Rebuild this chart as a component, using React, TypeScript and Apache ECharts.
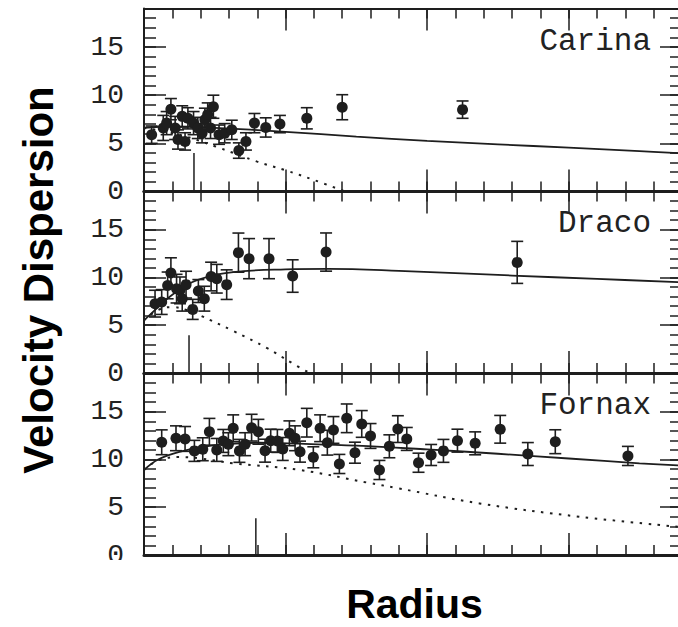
import React, { useEffect, useRef } from "react";
import * as echarts from "echarts";

// ---------- data ----------
const X_MIN = 0;
const X_MAX = 3.8;
const Y_MAX = 19;

const galaxyNames = ["Carina", "Draco", "Fornax"];

const carinaR = [0.054, 0.136, 0.16, 0.19, 0.22, 0.24, 0.27, 0.29, 0.31, 0.35, 0.38, 0.41, 0.43, 0.45, 0.47, 0.49, 0.53, 0.57, 0.62, 0.67, 0.72, 0.78, 0.86, 0.96, 1.15, 1.4, 2.25];
const carinaV = [5.9, 6.6, 7.1, 8.55, 6.6, 5.4, 7.8, 5.2, 7.6, 7.1, 6.6, 6.05, 7.45, 8.0, 6.6, 8.8, 5.9, 6.05, 6.4, 4.25, 5.2, 7.1, 6.65, 7.0, 7.6, 8.75, 8.5];
const carinaErr = [0.9, 1.3, 1.2, 1.1, 1.2, 1.0, 1.1, 0.9, 1.1, 1.2, 1.1, 1.0, 1.2, 1.2, 1.1, 1.2, 1.0, 1.0, 1.0, 0.8, 0.9, 1.0, 1.0, 0.9, 1.1, 1.3, 0.9];

const dracoR = [0.078, 0.125, 0.167, 0.19, 0.23, 0.254, 0.27, 0.297, 0.344, 0.384, 0.426, 0.474, 0.514, 0.584, 0.667, 0.742, 0.883, 1.05, 1.286, 2.636];
const dracoV = [7.26, 7.43, 9.17, 10.46, 8.83, 8.65, 7.78, 9.25, 6.66, 8.58, 7.78, 10.1, 9.87, 9.25, 12.6, 11.97, 11.97, 10.15, 12.66, 11.58];
const dracoErr = [1.4, 1.3, 1.4, 1.6, 1.5, 1.4, 1.3, 1.4, 1.05, 1.2, 1.3, 1.5, 1.5, 1.55, 2.05, 2.1, 2.1, 1.7, 2.0, 2.2];

const fornaxR = [0.125, 0.226, 0.29, 0.356, 0.415, 0.462, 0.514, 0.56, 0.596, 0.63, 0.674, 0.714, 0.76, 0.808, 0.855, 0.895, 0.942, 0.98, 1.027, 1.067, 1.102, 1.15, 1.196, 1.244, 1.295, 1.338, 1.38, 1.432, 1.49, 1.538, 1.6, 1.663, 1.733, 1.793, 1.856, 1.939, 2.028, 2.115, 2.214, 2.339, 2.516, 2.711, 2.905, 3.418];
const fornaxV = [11.8, 12.22, 12.15, 10.9, 11.07, 12.9, 11.0, 11.94, 11.6, 13.27, 10.9, 11.6, 13.33, 12.9, 10.92, 11.97, 11.94, 11.1, 12.74, 12.22, 10.82, 13.85, 10.23, 13.27, 11.76, 13.09, 9.53, 14.31, 10.71, 13.72, 12.46, 8.9, 11.38, 13.18, 12.15, 9.66, 10.47, 10.9, 11.97, 11.69, 13.16, 10.57, 11.86, 10.37];
const fornaxErr = [1.3, 1.3, 1.3, 1.1, 1.2, 1.4, 1.2, 1.2, 1.2, 1.4, 1.2, 1.2, 1.4, 1.3, 1.2, 1.2, 1.2, 1.2, 1.3, 1.3, 1.1, 1.5, 1.1, 1.4, 1.3, 1.4, 1.0, 1.5, 1.1, 1.4, 1.3, 1.0, 1.2, 1.4, 1.2, 1.0, 1.1, 1.2, 1.2, 1.2, 1.45, 1.2, 1.25, 1.0];

// model curves
const carinaSolidR = [0, 0.2, 0.5, 1.0, 1.5, 2.0, 2.5, 3.0, 3.5, 3.8];
const carinaSolidV = [6.6, 6.75, 6.6, 6.2, 5.7, 5.25, 4.9, 4.55, 4.2, 3.95];
const carinaDotR = [0, 0.25, 0.5, 0.8, 1.0, 1.2, 1.42];
const carinaDotV = [6.6, 5.9, 4.7, 3.1, 2.2, 1.2, 0];

const dracoSolidR = [0, 0.1, 0.2, 0.37, 0.63, 1.0, 1.3, 1.8, 2.6, 3.2, 3.8];
const dracoSolidV = [5.5, 6.9, 8.2, 9.7, 10.55, 10.85, 10.9, 10.7, 10.2, 9.85, 9.5];
const dracoDotR = [0, 0.1, 0.2, 0.3, 0.4, 0.63, 0.87, 1.05, 1.17];
const dracoDotV = [5.5, 6.6, 6.9, 6.6, 6.0, 4.4, 2.6, 1.0, 0];

const fornaxSolidR = [0, 0.1, 0.25, 0.5, 0.8, 1.1, 1.5, 2.0, 2.5, 3.0, 3.5, 3.8];
const fornaxSolidV = [8.9, 10.0, 10.8, 11.5, 11.75, 11.65, 11.45, 11.05, 10.6, 10.1, 9.6, 9.35];
const fornaxDotR = [0, 0.1, 0.25, 0.4, 0.63, 1.1, 1.57, 1.79, 2.37, 3.08, 3.77];
const fornaxDotV = [8.9, 9.9, 10.25, 10.1, 9.6, 8.9, 7.6, 7.0, 5.4, 4.0, 2.96];

// short vertical markers
const markerR = [0.353, 0.318, 0.79];
const markerTop = [4.0, 3.95, 3.85];

const yTickLabels = ["0", "5", "10", "15"];

// ---------- layout / style ----------
const INK = "#1e1e1e";
const GRID_LEFT = 144;
const GRID_RIGHT = -4;
const gridTops = [8.5, 191.5, 373.5];
const gridHeights = [183, 181.5, 181.5];

const panels = [
  { r: carinaR, v: carinaV, e: carinaErr, sr: carinaSolidR, sv: carinaSolidV, dr: carinaDotR, dv: carinaDotV },
  { r: dracoR, v: dracoV, e: dracoErr, sr: dracoSolidR, sv: dracoSolidV, dr: dracoDotR, dv: dracoDotV },
  { r: fornaxR, v: fornaxV, e: fornaxErr, sr: fornaxSolidR, sv: fornaxSolidV, dr: fornaxDotR, dv: fornaxDotV },
];

function zip(a: number[], b: number[]) {
  return a.map((x, i) => [x, b[i]]);
}

function buildOption() {
  const grid: any[] = [];
  const xAxis: any[] = [];
  const yAxis: any[] = [];
  const series: any[] = [];
  const graphic: any[] = [];

  panels.forEach((p, i) => {
    grid.push({
      left: GRID_LEFT,
      right: GRID_RIGHT,
      top: gridTops[i],
      height: gridHeights[i],
      containLabel: false,
      outerBoundsMode: "none",
    });

    const xBase = (position: string, interval: number, len: number, lineW: number) => ({
      type: "value",
      gridIndex: i,
      position,
      min: X_MIN,
      max: X_MAX,
      interval,
      axisLine: { show: lineW > 0, onZero: false, lineStyle: { color: INK, width: lineW } },
      axisTick: { show: true, inside: true, length: len, lineStyle: { color: INK, width: 1.5 } },
      axisLabel: { show: false },
      splitLine: { show: false },
      minorTick: { show: false },
    });
    xAxis.push(xBase("bottom", 0.2, 10, 3));
    xAxis.push(xBase("bottom", 1, 22, 0));
    xAxis.push(xBase("top", 0.2, 10, i === 0 ? 2 : 3));
    xAxis.push(xBase("top", 1, 22, 0));

    const yBase = (position: string, interval: number, len: number, lineW: number, labels: boolean) => ({
      type: "value",
      gridIndex: i,
      position,
      min: 0,
      max: Y_MAX,
      interval,
      axisLine: { show: lineW > 0, onZero: false, lineStyle: { color: INK, width: lineW } },
      axisTick: { show: true, inside: true, length: len, lineStyle: { color: INK, width: 1.5 } },
      axisLabel: {
        show: labels,
        margin: 20,
        color: "#222",
        fontFamily: "Liberation Mono",
        fontSize: 28,
        formatter: (val: number) => {
          const s = String(Math.round(val));
          return yTickLabels.indexOf(s) >= 0 && Math.abs(val - Math.round(val)) < 1e-6 ? s : "";
        },
      },
      splitLine: { show: false },
    });
    yAxis.push(yBase("left", 1, 12, 2, false));
    yAxis.push(yBase("left", 5, 22, 0, true));
    yAxis.push(yBase("right", 1, 12, 2, false));
    yAxis.push(yBase("right", 5, 22, 0, false));

    const xi = i * 4;
    const yi = i * 4;
    const pts = p.r.map((x, k) => [x, p.v[k], p.e[k]]);

    series.push({
      type: "custom",
      xAxisIndex: xi,
      yAxisIndex: yi,
      data: pts,
      encode: { x: 0, y: 1 },
      z: 3,
      renderItem: (_params: any, api: any) => {
        const x = api.value(0);
        const y = api.value(1);
        const e = api.value(2);
        const top = api.coord([x, y + e]);
        const bot = api.coord([x, y - e]);
        const hw = 6;
        const st = { stroke: INK, lineWidth: 1.6 };
        return {
          type: "group",
          children: [
            { type: "line", shape: { x1: top[0], y1: top[1], x2: bot[0], y2: bot[1] }, style: st },
            { type: "line", shape: { x1: top[0] - hw, y1: top[1], x2: top[0] + hw, y2: top[1] }, style: st },
            { type: "line", shape: { x1: bot[0] - hw, y1: bot[1], x2: bot[0] + hw, y2: bot[1] }, style: st },
          ],
        };
      },
    });
    series.push({
      type: "scatter",
      xAxisIndex: xi,
      yAxisIndex: yi,
      data: pts.map((d) => [d[0], d[1]]),
      symbol: "circle",
      symbolSize: 11,
      itemStyle: { color: INK, opacity: 1 },
      z: 4,
    });
    series.push({
      type: "line",
      xAxisIndex: xi,
      yAxisIndex: yi,
      data: zip(p.sr, p.sv),
      smooth: 0.4,
      showSymbol: false,
      symbol: "none",
      lineStyle: { color: INK, width: 1.8 },
      z: 2,
    });
    series.push({
      type: "line",
      xAxisIndex: xi,
      yAxisIndex: yi,
      data: zip(p.dr, p.dv),
      smooth: 0.4,
      showSymbol: false,
      symbol: "none",
      lineStyle: { color: INK, width: 2, type: [2.5, 6.5] },
      z: 2,
    });
    series.push({
      type: "line",
      xAxisIndex: xi,
      yAxisIndex: yi,
      data: [
        [markerR[i], 0],
        [markerR[i], markerTop[i]],
      ],
      showSymbol: false,
      symbol: "none",
      lineStyle: { color: INK, width: 1.5 },
      z: 2,
    });

    // panel name, baseline ~2.5px under the "15" tick
    const tick15 = gridTops[i] + gridHeights[i] * (1 - 15 / Y_MAX);
    const base = tick15 + 2.5;
    graphic.push({
      type: "text",
      x: 651,
      y: base - 8.3,
      z: 10,
      style: {
        text: galaxyNames[i],
        fill: "#222",
        font: "31px 'Liberation Mono'",
        textAlign: "right",
        textVerticalAlign: "middle",
        align: "right",
        verticalAlign: "middle",
      },
    });
  });

  // cut-off strip below the plot (as in the reference)
  graphic.push({
    type: "rect",
    shape: { x: 60, y: 560, width: 82, height: 20 },
    style: { fill: "#ffffff" },
    z: 100,
  });

  graphic.push({
    type: "text",
    x: 38,
    y: 280,
    rotation: Math.PI / 2,
    style: {
      text: "Velocity Dispersion",
      fill: "#000",
      font: "bold 42px 'Liberation Sans', Arial, sans-serif",
      textAlign: "center",
      textVerticalAlign: "middle",
      align: "center",
      verticalAlign: "middle",
    },
  });
  graphic.push({
    type: "text",
    x: 414.5,
    y: 603.5,
    style: {
      text: "Radius",
      fill: "#000",
      font: "bold 41px 'Liberation Sans', Arial, sans-serif",
      textAlign: "center",
      textVerticalAlign: "middle",
      align: "center",
      verticalAlign: "middle",
    },
  });

  return {
    animation: false,
    backgroundColor: "#ffffff",
    grid,
    xAxis,
    yAxis,
    series,
    graphic,
  };
}

export default function App() {
  const ref = useRef<HTMLDivElement>(null);
  useEffect(() => {
    if (!ref.current) return;
    const chart = echarts.init(ref.current, undefined, { renderer: "svg" });
    chart.setOption(buildOption() as any);
    return () => chart.dispose();
  }, []);
  return (
    <div
      ref={ref}
      style={{ position: "fixed", left: 0, top: 0, width: 678, height: 627, background: "#fff" }}
    />
  );
}
